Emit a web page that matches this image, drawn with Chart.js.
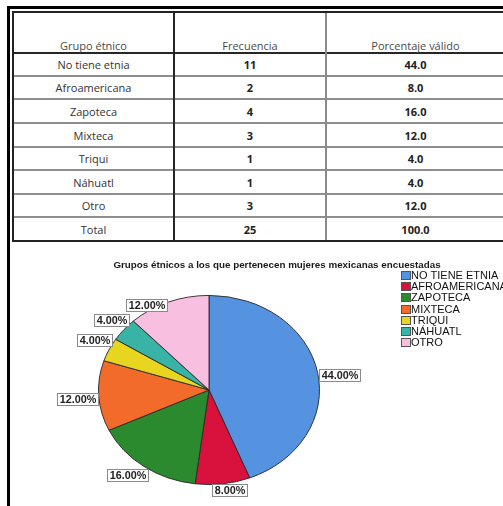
<!DOCTYPE html>
<html><head><meta charset="utf-8">
<script src="https://cdn.jsdelivr.net/npm/chart.js@4.4.0/dist/chart.umd.min.js"></script>
<style>
html,body{margin:0;padding:0;background:#fff;}
body{width:503px;height:506px;overflow:hidden;position:relative;}
.ln{position:absolute;}
.tx{position:absolute;text-align:center;font-family:"Open Sans",sans-serif;font-size:11px;white-space:nowrap;}
#wrap{position:absolute;left:10px;top:243px;width:493px;height:263px;}
</style></head><body>
<div id="tbl"></div>
<div id="wrap"><canvas id="c" width="493" height="263"></canvas></div>
<script>
// ---- data ----
const tableHeaders = ['Grupo étnico', 'Frecuencia', 'Porcentaje válido'];
const tableGroups = ['No tiene etnia', 'Afroamericana', 'Zapoteca', 'Mixteca', 'Triqui', 'Náhuatl', 'Otro'];
const frequencies = [11, 2, 4, 3, 1, 1, 3];
const percentages = [44.0, 8.0, 16.0, 12.0, 4.0, 4.0, 12.0];
const totalRow = ['Total', 25, 100.0];
const categories = ['NO TIENE ETNIA', 'AFROAMERICANA', 'ZAPOTECA', 'MIXTECA', 'TRIQUI', 'NÁHUATL', 'OTRO'];
const chartTitle = 'Grupos étnicos a los que pertenecen mujeres mexicanas encuestadas';
const sliceColors = ['#5592e0', '#d8123c', '#2b8a2d', '#f26b2b', '#e8d51f', '#39b3a5', '#f9bfe0'];

// label placement tweaks (style, not data)
const labelNudge = { 2: [5, 3], 4: [4, -13], 5: [6, -13] };

// ---- table ----
const tbl = document.getElementById('tbl');
function line(x, y, w, h, c) {
  const d = document.createElement('div'); d.className = 'ln';
  d.style.cssText = `left:${x}px;top:${y}px;width:${w}px;height:${h}px;background:${c}`;
  tbl.appendChild(d);
}
function text(t, x0, x1, yc, bold, color) {
  const d = document.createElement('div'); d.className = 'tx';
  d.textContent = t;
  d.style.cssText += `left:${x0}px;width:${x1 - x0}px;top:${yc - 8}px;height:16px;line-height:16px;font-weight:${bold ? 700 : 400};color:${color}`;
  tbl.appendChild(d);
}
const colX = [13, 174, 326, 505];
const rowY = [12, 53, 76, 99, 123, 147, 170, 194, 217, 241];
// outer frame
line(8, 6, 495, 3, '#000');
line(7, 6, 3, 500, '#000');
// row lines
for (let i = 2; i < rowY.length - 1; i++) line(13, rowY[i] - 1, 492, 2, '#8e8e8e');
// header bottom
line(13, 52, 492, 2, '#262626');
// column lines
line(325, 12, 2, 229, '#8a8a8a');
line(173, 12, 2, 229, '#262626');
// table border
line(12, 11, 493, 2, '#222');
line(12, 240, 493, 2, '#222');
line(12, 11, 2, 231, '#222');
// header
tableHeaders.forEach((h, j) => text(h, colX[j], colX[j + 1], 46, false, '#4a4a4a'));
const rows = tableGroups.map((g, i) => [g, frequencies[i], percentages[i]]).concat([totalRow]);
rows.forEach((r, i) => {
  const yc = (rowY[i + 1] + rowY[i + 2]) / 2 + 0.5;
  text(r[0], colX[0], colX[1], yc, false, '#333');
  text(String(r[1]), colX[1], colX[2], yc, true, '#222');
  text(Number(r[2]).toFixed(1), colX[2], colX[3], yc, true, '#222');
});

// ---- chart ----
const RATIO = 95 / 111;
const ellipsePlugin = {
  id: 'ellipse',
  beforeDatasetsDraw(chart) {
    const a = chart.getDatasetMeta(0).data[0];
    const ctx = chart.ctx;
    ctx.save();
    ctx.translate(a.x, a.y); ctx.scale(1, RATIO); ctx.translate(-a.x, -a.y);
  },
  afterDatasetsDraw(chart) { chart.ctx.restore(); }
};
const decorPlugin = {
  id: 'decor',
  afterDraw(chart) {
    const ctx = chart.ctx;
    ctx.save();
    // title
    ctx.font = 'bold 9.8px Arial, "Liberation Sans", sans-serif';
    ctx.fillStyle = '#1a1a1a'; ctx.textAlign = 'center'; ctx.textBaseline = 'middle';
    ctx.fillText(chartTitle, 267, 22);
    // labels
    const meta = chart.getDatasetMeta(0);
    ctx.font = 'bold 10.8px Arial, "Liberation Sans", sans-serif';
    meta.data.forEach((arc, i) => {
      const p = arc.getProps(['x', 'y', 'startAngle', 'endAngle', 'outerRadius'], true);
      const mid = (p.startAngle + p.endAngle) / 2;
      const c = Math.cos(mid), s = Math.sin(mid);
      const px = p.x + p.outerRadius * c;
      const py = p.y + p.outerRadius * RATIO * s;
      const t = chart.data.datasets[0].data[i].toFixed(2) + '%';
      const w = Math.round(ctx.measureText(t).width + 4), h = 12;
      let bx = px + Math.sign(c) * Math.min(1, 3 * Math.abs(c)) * (w / 2 + 1);
      let by = py + 3 + Math.max(0, s) * 3;
      const n = labelNudge[i] || [0, 0];
      bx += n[0]; by += n[1];
      const l = Math.round(bx - w / 2) + 0.5, tp = Math.round(by - h / 2) + 0.5;
      ctx.fillStyle = '#fff'; ctx.fillRect(l, tp, w, h);
      ctx.strokeStyle = '#8a8a8a'; ctx.lineWidth = 1; ctx.strokeRect(l, tp, w, h);
      ctx.fillStyle = '#222'; ctx.textAlign = 'center'; ctx.textBaseline = 'middle';
      ctx.fillText(t, l + w / 2, tp + h / 2 + 0.5);
    });
    // legend
    ctx.font = '11px Arial, "Liberation Sans", sans-serif';
    ctx.textAlign = 'left';
    chart.data.labels.forEach((lab, i) => {
      const y = Math.round(28 + i * 11.2);
      ctx.fillStyle = chart.data.datasets[0].backgroundColor[i];
      ctx.fillRect(391.5, y + 0.5, 9, 8);
      ctx.strokeStyle = '#555'; ctx.strokeRect(391.5, y + 0.5, 9, 8);
      ctx.fillStyle = '#111';
      ctx.fillText(lab, 401, y + 5);
    });
    ctx.restore();
  }
};
new Chart(document.getElementById('c'), {
  type: 'pie',
  data: {
    labels: categories,
    datasets: [{
      data: percentages,
      backgroundColor: sliceColors,
      borderColor: '#2a2a2a',
      borderWidth: 1
    }]
  },
  options: {
    responsive: false,
    animation: false,
    layout: { padding: { left: 88, right: 183, top: 36, bottom: 5 } },
    plugins: {
      legend: { display: false },
      tooltip: { enabled: false },
      title: { display: false }
    }
  },
  plugins: [ellipsePlugin, decorPlugin]
});
</script>
</body></html>
